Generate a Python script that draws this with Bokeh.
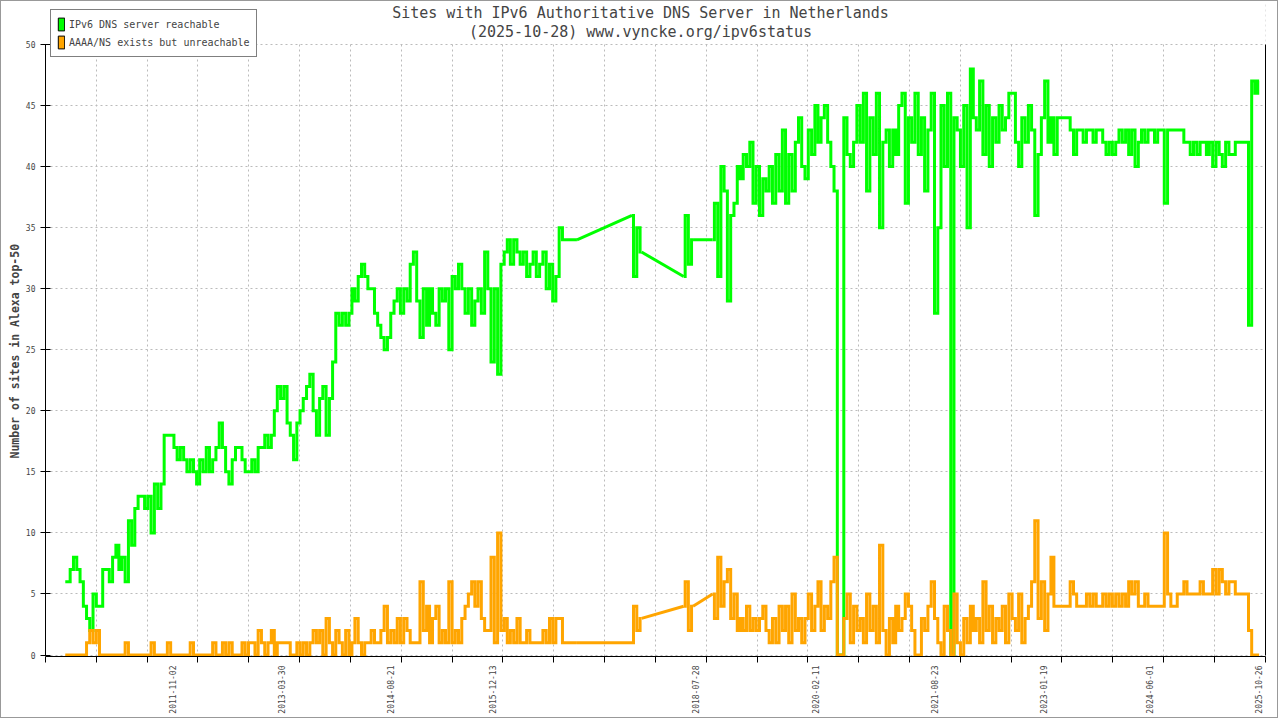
import numpy as np
import pandas as pd
from bokeh.plotting import figure
from bokeh.models import (Range1d, FixedTicker, DatetimeTickFormatter, LinearAxis,
                          Legend, LegendItem, Label, BoxAnnotation, ColumnDataSource, Title)
from bokeh.embed import file_html
from bokeh.resources import INLINE

N = None

# ---- data: semi-monthly samples (1st and 15th), None = no measurement ----
GREEN_2010 = [6, 6, 7, 8, 7, 6, 4, 3, 2, 5, 4, 4, 7]
GREEN_2011 = [7, 6, 8, 9, 7, 8, 6, 11, 9, 12, 13, 13, 12, 13, 10, 14, 12, 14, 18, 18, 18, 17, 16, 17]
GREEN_2012 = [16, 15, 16, 15, 14, 16, 15, 17, 15, 16, 17, 19, 17, 15, 14, 16, 17, 17, 16, 15, 15, 16, 15, 17]
GREEN_2013 = [17, 18, 17, 18, 20, 22, 21, 22, 19, 18, 16, 19, 20, 21, 22, 23, 20, 18, 21, 22, 18, 21, 24, 28]
GREEN_2014 = [27, 28, 27, 28, 30, 29, 31, 32, 31, 30, 30, 28, 27, 26, 25, 26, 28, 29, 30, 28, 30, 29, 32, 33]
GREEN_2015 = [29, 26, 30, 27, 30, 28, 27, 30, 29, 30, 25, 31, 30, 32, 30, 28, 30, 27, 29, 30, 28, 33, 30, 24]
GREEN_2016 = [30, 23, 32, 33, 34, 32, 34, 33, 32, 33, 31, 32, 33, 31, 32, 33, 30, 32, 29, 31, 35, 34, 34, 34]
GREEN_2017 = [34, 34, N, N, N, N, N, N, N, N, N, N, N, N, N, N, N, N, 36, 31, 35, 33, N, N]
GREEN_2018 = [N, N, N, N, N, N, N, N, N, N, 31, 36, 32, 34, N, N, N, N, N, 34, 37, 31, 40, 38]
GREEN_2019 = [29, 36, 37, 40, 39, 41, 40, 42, 37, 40, 36, 39, 38, 40, 37, 41, 38, 43, 37, 41, 38, 42, 44, 40]
GREEN_2020 = [39, 43, 41, 45, 42, 44, 45, 42, 40, 38, 0, 0, 44, 41, 40, 42, 45, 42, 46, 38, 44, 41, 46, 35]
GREEN_2021 = [42, 43, 40, 43, 41, 45, 46, 37, 44, 42, 46, 41, 44, 38, 43, 46, 28, 35, 45, 40, 46, 0, 44, 43]
GREEN_2022 = [40, 45, 35, 48, 44, 43, 47, 41, 45, 40, 44, 42, 45, 43, 44, 46, 46, 42, 40, 44, 42, 45, 43, 36]
GREEN_2023 = [41, 44, 47, 42, 44, 41, 44, 44, 44, 44, 43, 41, 43, 43, 42, 43, 43, 42, 43, 43, 42, 41, 42, 41]
GREEN_2024 = [42, 43, 42, 43, 41, 43, 40, 42, 43, 42, 43, 43, 42, 43, 43, 37, 43, 43, 43, 43, 43, 42, 42, 41]
GREEN_2025 = [42, 41, 42, 42, 41, 42, 40, 42, 41, 40, 42, 41, 41, 42, 42, 42, 42, 27, 47, 46, 47]

ORANGE_2010 = [0, 0, 0, 0, 0, 0, 0, 1, 2, 1, 2, 0, 0]
ORANGE_2011 = [0, 0, 0, 0, 0, 0, 1, 0, 0, 0, 0, 0, 0, 0, 1, 0, 0, 0, 0, 1, 0, 0, 0, 0]
ORANGE_2012 = [0, 0, 1, 0, 0, 0, 0, 0, 0, 1, 0, 0, 1, 0, 1, 0, 0, 0, 1, 0, 1, 1, 0, 2]
ORANGE_2013 = [1, 0, 1, 2, 0, 1, 1, 1, 1, 0, 0, 1, 0, 1, 0, 1, 2, 1, 2, 0, 3, 1, 0, 2]
ORANGE_2014 = [1, 0, 2, 0, 1, 3, 1, 0, 1, 1, 2, 1, 1, 2, 4, 1, 2, 1, 3, 1, 3, 2, 1, 1]
ORANGE_2015 = [1, 6, 2, 4, 1, 3, 4, 1, 2, 1, 6, 1, 2, 1, 3, 4, 5, 6, 4, 6, 3, 2, 2, 8]
ORANGE_2016 = [1, 10, 2, 3, 1, 2, 1, 3, 1, 1, 2, 1, 1, 1, 1, 2, 1, 3, 1, 3, 3, 1, 1, 1]
ORANGE_2017 = [1, 1, N, N, N, N, N, N, N, N, N, N, N, N, N, N, N, N, 1, 4, 2, 3, N, N]
ORANGE_2018 = [N, N, N, N, N, N, N, N, N, N, 4, 6, 2, 4, N, N, N, N, N, 5, 3, 8, 4, 6]
ORANGE_2019 = [7, 3, 5, 2, 3, 2, 4, 2, 3, 2, 3, 4, 2, 1, 3, 1, 4, 2, 4, 1, 5, 2, 3, 1]
ORANGE_2020 = [3, 5, 2, 4, 6, 2, 4, 3, 6, 8, 0, 0, 3, 5, 1, 4, 2, 3, 1, 5, 2, 4, 1, 9]
ORANGE_2021 = [2, 0, 3, 1, 4, 2, 3, 5, 4, 2, 0, 0, 3, 2, 4, 6, 3, 1, 0, 4, 2, 0, 5, 1]
ORANGE_2022 = [0, 3, 1, 4, 2, 3, 1, 6, 2, 4, 1, 3, 2, 4, 1, 5, 3, 2, 5, 1, 3, 4, 6, 11]
ORANGE_2023 = [3, 6, 2, 5, 8, 4, 4, 4, 4, 4, 6, 5, 4, 4, 4, 5, 4, 5, 4, 4, 5, 4, 5, 4]
ORANGE_2024 = [5, 4, 5, 4, 6, 5, 6, 4, 4, 5, 4, 4, 4, 4, 4, 10, 5, 4, 4, 5, 5, 6, 5, 5]
ORANGE_2025 = [5, 5, 6, 5, 5, 5, 7, 5, 7, 6, 5, 6, 6, 5, 5, 5, 5, 2, 0, 0, 0]

FIRST_SAMPLE = "2010-06-15"
LAST_REGULAR_SAMPLE = "2025-10-15"
FINAL_SAMPLE = "2025-10-28"

LABEL_DATES = ["2011-11-02", "2013-03-30", "2014-08-21", "2015-12-13", "2018-07-28",
               "2020-02-11", "2021-08-23", "2023-01-19", "2024-06-01", "2025-10-26"]
Y_TICKS = [0, 5, 10, 15, 20, 25, 30, 35, 40, 45, 50]
Y_MAX = 50
Y_VIEW_BOTTOM = -0.12    # lifts the zero line just off the axis
Y_VIEW_TOP = 53.52       # room above the value axis for title and legend
X_START = "2010-03-14"
X_END = "2025-11-27"
TICK_STEP_DAYS = 239

TITLE_1 = "Sites with IPv6 Authoritative DNS Server in Netherlands"
TITLE_2 = "(2025-10-28) www.vyncke.org/ipv6status"
Y_LABEL = "Number of sites in Alexa top-50"
LEG_GREEN = "IPv6 DNS server reachable"
LEG_ORANGE = "AAAA/NS exists but unreachable"

GREEN_COLOR = "#00ff00"
ORANGE_COLOR = "#ffa500"
GRID_COLOR = "#bbbbbb"
MONO = "DejaVu Sans Mono"

green = (GREEN_2010 + GREEN_2011 + GREEN_2012 + GREEN_2013 + GREEN_2014 + GREEN_2015 +
         GREEN_2016 + GREEN_2017 + GREEN_2018 + GREEN_2019 + GREEN_2020 + GREEN_2021 +
         GREEN_2022 + GREEN_2023 + GREEN_2024 + GREEN_2025)
orange = (ORANGE_2010 + ORANGE_2011 + ORANGE_2012 + ORANGE_2013 + ORANGE_2014 + ORANGE_2015 +
          ORANGE_2016 + ORANGE_2017 + ORANGE_2018 + ORANGE_2019 + ORANGE_2020 + ORANGE_2021 +
          ORANGE_2022 + ORANGE_2023 + ORANGE_2024 + ORANGE_2025)
dates = list(pd.date_range(FIRST_SAMPLE, LAST_REGULAR_SAMPLE, freq="SMS")) + [pd.Timestamp(FINAL_SAMPLE)]
n = min(len(dates), len(green), len(orange))
df = pd.DataFrame({"date": dates[:n],
                   "green": [np.nan if v is None else float(v) for v in green[:n]],
                   "orange": [np.nan if v is None else float(v) for v in orange[:n]]})


def runs(col):
    """Split a series into runs of consecutive measurements."""
    out, cur = [], []
    for d, v in zip(df["date"], df[col]):
        if np.isnan(v):
            if cur:
                out.append(cur)
                cur = []
        else:
            cur.append((d, v))
    if cur:
        out.append(cur)
    return out


def ms(d):
    return pd.Timestamp(d).value // 10**6


x0 = pd.Timestamp(X_START)
x1 = pd.Timestamp(X_END)
tick_ms = []
k = 0
while x0 + pd.Timedelta(days=TICK_STEP_DAYS * k) <= x1 + pd.Timedelta(days=2):
    tick_ms.append(ms(x0 + pd.Timedelta(days=TICK_STEP_DAYS * k)))
    k += 1
label_ms = [ms(d) for d in LABEL_DATES]

p = figure(width=1278, height=718, x_axis_type="datetime",
           x_range=Range1d(x0, x1), y_range=Range1d(Y_VIEW_BOTTOM, Y_VIEW_TOP),
           output_backend="svg", toolbar_location=None, title=None,
           min_border_left=44, min_border_right=14, min_border_top=0, min_border_bottom=63)
p.styles = {"border": "1px solid #999999"}
p.outline_line_color = None
p.background_fill_color = "white"
p.border_fill_color = "white"

# x axis: labels at label dates (no marks), small marks at regular steps
xt = FixedTicker(ticks=label_ms, minor_ticks=tick_ms)
xa = p.xaxis[0]
xa.ticker = xt
fmt = "%Y-%m-%d"
xa.formatter = DatetimeTickFormatter(microseconds=fmt, milliseconds=fmt, seconds=fmt,
                                     minsec=fmt, minutes=fmt, hourmin=fmt, hours=fmt,
                                     days=fmt, months=fmt, years=fmt)
xa.major_label_orientation = np.pi / 2
xa.major_tick_line_color = None
xa.major_tick_out = 6
xa.major_tick_in = 0
xa.minor_tick_line_color = "black"
xa.minor_tick_out = 6
xa.minor_tick_in = 0
xa.major_label_standoff = 3
xa.major_label_text_font = MONO
xa.major_label_text_font_size = "8px"
xa.axis_line_color = "black"
xa.axis_line_width = 1

ya = p.yaxis[0]
yt = FixedTicker(ticks=Y_TICKS)
ya.ticker = yt
ya.bounds = (0, Y_MAX)
ya.major_tick_in = 5
ya.major_tick_out = 5
ya.minor_tick_line_color = None
ya.major_label_standoff = 5
ya.major_label_text_font = MONO
ya.major_label_text_font_size = "8px"
ya.axis_line_color = "black"

right = LinearAxis(ticker=FixedTicker(ticks=[]), bounds=(0, Y_MAX), major_tick_out=0,
                   major_tick_in=0, minor_tick_out=0, minor_tick_in=0,
                   major_label_standoff=0, axis_label_standoff=0, axis_line_color="black")
p.add_layout(right, "right")

# y-axis title as a side-panel title, started a fixed distance above the frame bottom
p.add_layout(Title(text=Y_LABEL, align="left", offset=198, standoff=2,
                   text_font=MONO, text_font_size="11.5px", text_font_style="bold"), "left")

p.xgrid.ticker = xt
p.xgrid.grid_line_color = None
p.xgrid.minor_grid_line_color = GRID_COLOR
p.xgrid.minor_grid_line_dash = "2 3"
p.ygrid.ticker = yt
p.ygrid.grid_line_color = GRID_COLOR
p.ygrid.grid_line_dash = "2 3"

# blank the band above the top value so grid lines stop at 50
p.add_layout(BoxAnnotation(bottom=Y_MAX + 0.08, fill_color="white", fill_alpha=1,
                           line_color=None))


def draw_series(col, color):
    segs = runs(col)
    for seg in segs:
        p.step([d for d, _ in seg], [v for _, v in seg], mode="center",
               line_width=3, line_color=color, line_join="miter")
    for a, b in zip(segs[:-1], segs[1:]):
        p.line([a[-1][0], b[0][0]], [a[-1][1], b[0][1]], line_width=3, line_color=color)


draw_series("green", GREEN_COLOR)
draw_series("orange", ORANGE_COLOR)

# legend swatches (hidden bar renderers over the same data)
src_g = ColumnDataSource(dict(date=df["date"], v=df["green"]))
src_o = ColumnDataSource(dict(date=df["date"], v=df["orange"]))
sw_g = p.vbar(x="date", top="v", width=1, source=src_g, fill_color=GREEN_COLOR,
              line_color="black", visible=False)
sw_o = p.vbar(x="date", top="v", width=1, source=src_o, fill_color=ORANGE_COLOR,
              line_color="black", visible=False)

p.add_layout(Label(x=595, y=52.54, x_units="screen", y_units="data", text=TITLE_1,
                   text_align="center", text_baseline="middle", text_font=MONO,
                   text_font_size="15px"))
p.add_layout(Label(x=595, y=51.06, x_units="screen", y_units="data", text=TITLE_2,
                   text_align="center", text_baseline="middle", text_font=MONO,
                   text_font_size="15px"))

legend = Legend(items=[LegendItem(label=LEG_GREEN, renderers=[sw_g]),
                       LegendItem(label=LEG_ORANGE, renderers=[sw_o])],
                location=(5, 599), orientation="vertical")
legend.inactive_fill_alpha = 0
legend.border_line_color = "black"
legend.border_line_width = 1
legend.background_fill_color = "white"
legend.background_fill_alpha = 1
legend.padding = 6
legend.spacing = 2
legend.margin = 0
legend.glyph_width = 8
legend.glyph_height = 16
legend.label_height = 15
legend.label_standoff = 4
legend.label_text_font = MONO
legend.label_text_font_size = "10px"
p.add_layout(legend, "center")

open("out.html", "w").write(file_html(p, INLINE))
